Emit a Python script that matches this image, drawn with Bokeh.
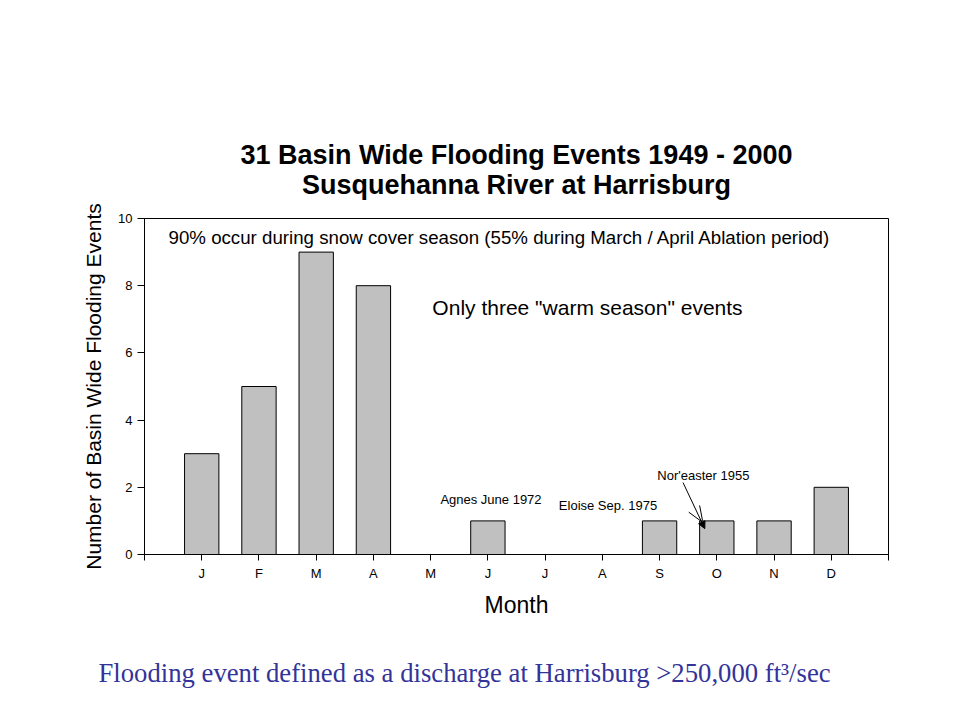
from bokeh.plotting import figure
from bokeh.models import (ColumnDataSource, FixedTicker, Title, Arrow, NormalHead,
                          Range1d)
from bokeh.core.properties import value
from bokeh.embed import file_html
from bokeh.resources import INLINE

# ---- data ----
months = ["J", "F", "M", "A", "M", "J", "J", "A", "S", "O", "N", "D"]
month_pos = [1, 2, 3, 4, 5, 6, 7, 8, 9, 10, 11, 12]
events = [3, 5, 9, 8, 0, 1, 0, 0, 1, 1, 1, 2]
y_ticks = [0, 2, 4, 6, 8, 10]

title_line1 = "31 Basin Wide Flooding Events 1949 - 2000"
title_line2 = "Susquehanna River at Harrisburg"
footer = "Flooding event defined as a discharge at Harrisburg >250,000 ft\u00b3/sec"

note_texts = ["90% occur during snow cover season (55% during March / April Ablation period)",
              "Only three \"warm season\" events"]
note_x = [0.42, 5.03]
note_y = [9.43, 7.35]

small_texts = ["Agnes June 1972", "Eloise Sep. 1975", "Nor'easter 1955"]
small_x = [5.17, 7.24, 8.96]
small_y = [1.64, 1.46, 2.35]

FONT = "Liberation Sans"

p = figure(width=944, height=722, output_backend="svg", toolbar_location=None,
           x_range=Range1d(0, 13), y_range=Range1d(0, 10),
           min_border_left=144, min_border_right=56,
           min_border_top=218, min_border_bottom=168)
p.background_fill_color = "white"
p.border_fill_color = "white"
p.outline_line_color = "black"
p.outline_line_width = 1
p.xgrid.visible = False
p.ygrid.visible = False

src = ColumnDataSource(dict(x=month_pos, top=events))
p.vbar(x="x", top="top", bottom=0, width=0.6, source=src,
       fill_color="#C0C0C0", line_color="black", line_width=1)

# axes
p.xaxis.ticker = FixedTicker(ticks=[0] + month_pos + [13])
overrides = {0: "", 13: ""}
for pos, m in zip(month_pos, months):
    overrides[pos] = m
p.xaxis.major_label_overrides = overrides
p.yaxis.ticker = FixedTicker(ticks=y_ticks)
for ax in (p.xaxis[0], p.yaxis[0]):
    ax.axis_line_color = "black"
    ax.major_tick_line_color = "black"
    ax.major_tick_in = 0
    ax.major_tick_out = 6
    ax.minor_tick_out = 0
    ax.minor_tick_in = 0
    ax.major_label_text_font = FONT
    ax.major_label_text_font_size = "13px"
    ax.major_label_text_color = "black"
    ax.axis_label_text_font = FONT
    ax.axis_label_text_font_style = "normal"
    ax.axis_label_text_color = "black"
p.yaxis.major_tick_out = 7
p.xaxis.axis_label = "Month"
p.xaxis.axis_label_text_font_size = "23px"
p.xaxis.axis_label_standoff = 8
p.yaxis.axis_label = "Number of Basin Wide Flooding Events"
p.yaxis.axis_label_text_font_size = "21px"
p.yaxis.axis_label_standoff = 10

# titles
t2 = Title(text=title_line2, align="center", offset=6, text_font=FONT, text_font_size="27px",
           text_font_style="bold", text_color="black", standoff=38)
t1 = Title(text=title_line1, align="center", offset=6, text_font=FONT, text_font_size="27px",
           text_font_style="bold", text_color="black", standoff=-43)
p.add_layout(t2, "above")
p.add_layout(t1, "above")

ft = Title(text=footer, align="left", offset=-46, text_font="Liberation Serif",
           text_font_size="26.7px", text_font_style="normal", text_color="#333399",
           standoff=70)
p.add_layout(ft, "below")

# annotations
p.text(x=note_x[:1], y=note_y[:1], text=note_texts[:1], text_font=value(FONT),
       text_font_size="18.7px", text_color="black", text_baseline="middle", text_align="left")
p.text(x=note_x[1:], y=note_y[1:], text=note_texts[1:], text_font=value(FONT),
       text_font_size="21px", text_color="black", text_baseline="middle", text_align="left")
p.text(x=small_x, y=small_y, text=small_texts, text_font=value(FONT),
       text_font_size="13px", text_color="black", text_baseline="middle", text_align="left")

p.add_layout(Arrow(end=NormalHead(size=7, fill_color="black", line_color="black"),
                   x_start=9.41, y_start=2.14, x_end=9.79, y_end=0.77,
                   line_color="black", line_width=1))
p.segment(x0=[9.70, 9.51], y0=[1.46, 1.26], x1=[9.75, 9.75], y1=[1.01, 0.96],
          line_color="black", line_width=1)

open("out.html", "w").write(file_html(p, INLINE))
